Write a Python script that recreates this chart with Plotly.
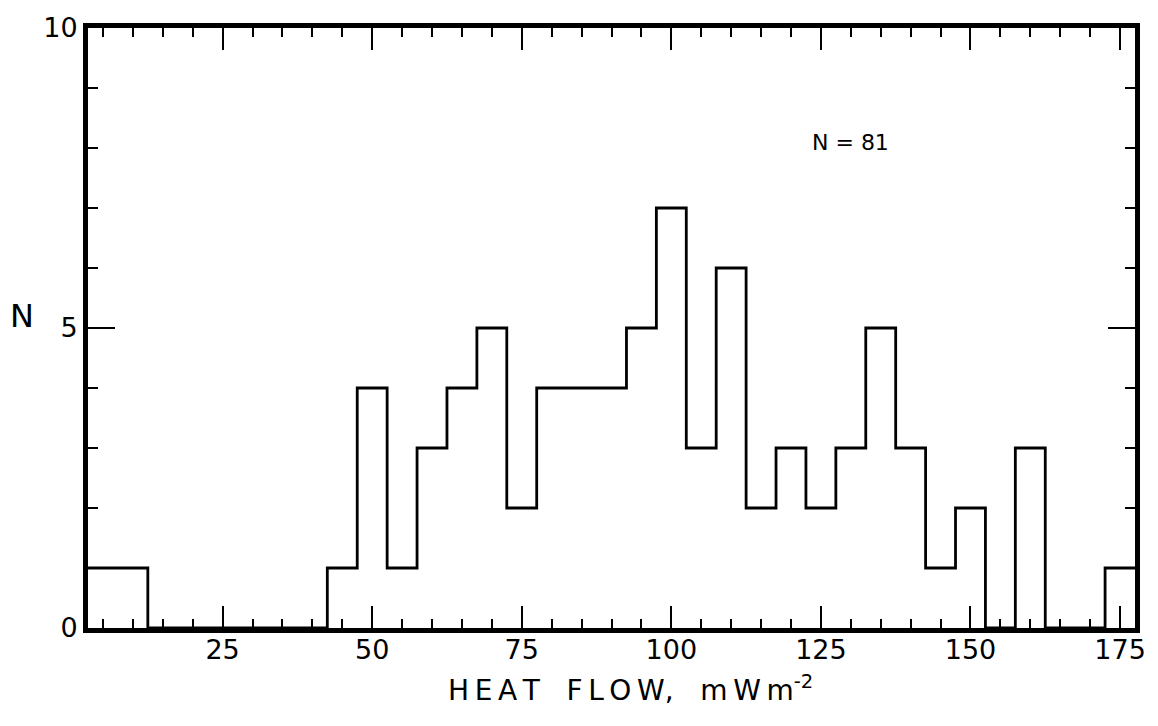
import plotly.graph_objects as go

# ---- data ----
bin_centers = [5, 10, 15, 20, 25, 30, 35, 40, 45, 50, 55, 60, 65, 70, 75, 80, 85, 90,
               95, 100, 105, 110, 115, 120, 125, 130, 135, 140, 145, 150, 155, 160,
               165, 170, 175]
counts = [1, 1, 0, 0, 0, 0, 0, 0, 1, 4, 1, 3, 4, 5, 2, 4, 4, 4,
          5, 7, 3, 6, 2, 3, 2, 3, 5, 3, 1, 2, 0, 3,
          0, 0, 1]
bin_width = 5
x_tick_vals = [25, 50, 75, 100, 125, 150, 175]
x_tick_text = ["25", "50", "75", "100", "125", "150", "175"]
y_tick_vals = [0, 5, 10]
y_tick_text = ["0", "5", "10"]
n_total_label = "N = 81"

# ---- step outline built from the bins ----
edges = [c - bin_width / 2 for c in bin_centers] + [bin_centers[-1] + bin_width / 2]
step_y = counts + [counts[-1]]

FONT = "DejaVu Sans"

fig = go.Figure()
fig.add_trace(go.Scatter(
    x=edges, y=step_y, mode="lines", line=dict(shape="hv", color="black", width=2.8),
    showlegend=False, hoverinfo="skip", cliponaxis=True,
))

axis_common = dict(
    showline=True, linecolor="black", linewidth=5, mirror="allticks",
    ticks="inside", tickcolor="black", tickwidth=2,
    showgrid=False, zeroline=False,
    tickfont=dict(family=FONT, size=27, color="black"),
)

fig.update_xaxes(
    range=[edges[0], edges[-1]],
    tickmode="array", tickvals=x_tick_vals, ticktext=x_tick_text,
    ticklen=22, ticklabelstandoff=-6,
    minor=dict(dtick=5, tick0=0, ticks="inside", ticklen=9, tickwidth=2, tickcolor="black"),
    **axis_common,
)
fig.update_yaxes(
    range=[0, 10],
    tickmode="array", tickvals=y_tick_vals, ticktext=y_tick_text,
    ticklen=27,
    minor=dict(dtick=1, tick0=0, ticks="inside", ticklen=10, tickwidth=2, tickcolor="black"),
    **axis_common,
)

sp = "\u2009"
nb = "\u00a0"
title_text = (sp.join("HEAT") + nb * 3 + sp.join("FLOW") + "," + nb * 3 +
              sp.join("mWm") + "<sup>-2</sup>")

fig.add_annotation(
    text=title_text, xref="paper", yref="paper", x=0.518, y=-0.1,
    xanchor="center", yanchor="middle", showarrow=False,
    font=dict(family=FONT, size=28, color="black"),
)
fig.add_annotation(
    text="N", xref="paper", yref="paper", x=-0.063, y=0.52,
    xanchor="center", yanchor="middle", showarrow=False,
    font=dict(family=FONT, size=32, color="black"),
)
fig.add_annotation(
    text=n_total_label, xref="x", yref="y", x=130, y=8.1,
    xanchor="center", yanchor="middle", showarrow=False,
    font=dict(family=FONT, size=22, color="black"),
)

fig.update_layout(
    width=1158, height=726,
    margin=dict(l=88, r=17, t=25, b=98),
    paper_bgcolor="white", plot_bgcolor="white",
    font=dict(family=FONT, color="black"),
)

fig.write_html("out.html")
